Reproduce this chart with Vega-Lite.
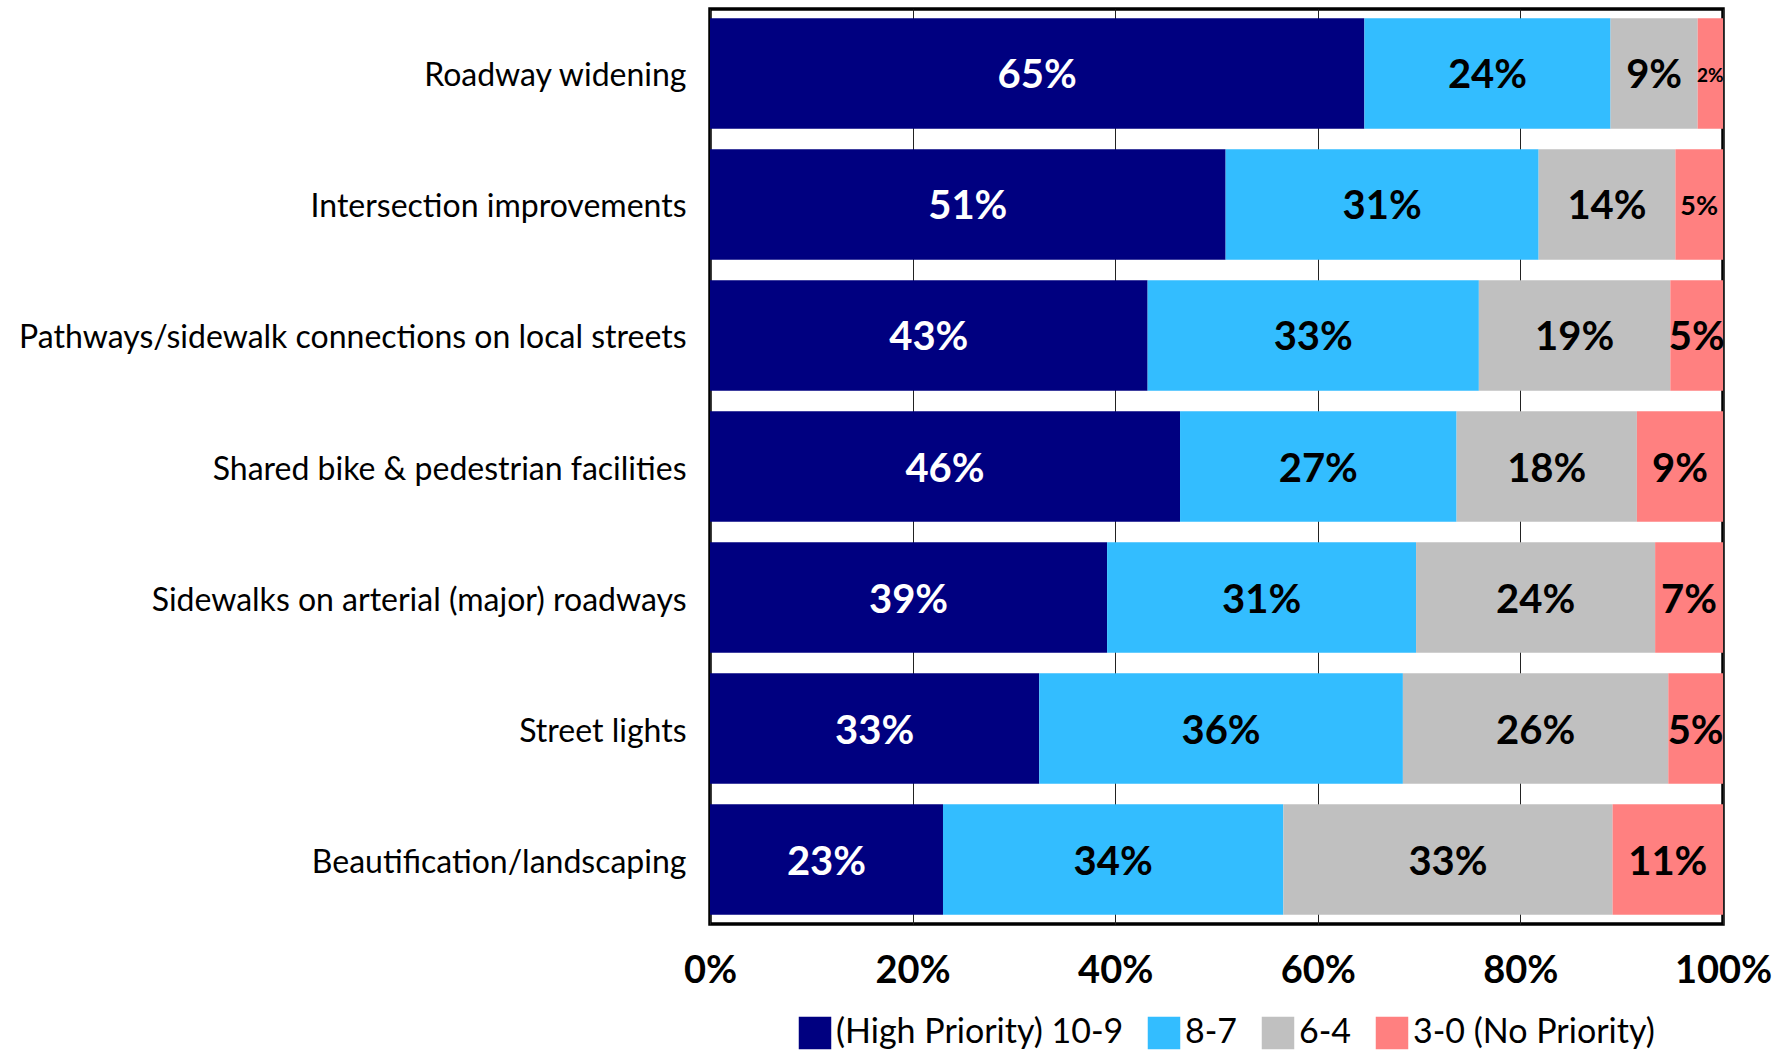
{
  "$schema": "https://vega.github.io/schema/vega-lite/v6.json",
  "autosize": {"type": "none"},
  "width": 1013,
  "height": 915,
  "padding": {"left": 710, "top": 9, "right": 66, "bottom": 129},
  "background": "white",
  "config": {
    "font": "Lato",
    "view": {"stroke": "black", "strokeWidth": 3.5},
    "legend": {"padding": 0}
  },
  "data": {
    "values": [
      {"item": "Roadway widening", "level": "(High Priority) 10-9", "k": 1, "value": 64.6, "label": "65%"},
      {"item": "Roadway widening", "level": "8-7", "k": 2, "value": 24.3, "label": "24%"},
      {"item": "Roadway widening", "level": "6-4", "k": 3, "value": 8.6, "label": "9%"},
      {"item": "Roadway widening", "level": "3-0 (No Priority)", "k": 4, "value": 2.5, "label": "2%"},
      {"item": "Intersection improvements", "level": "(High Priority) 10-9", "k": 1, "value": 50.9, "label": "51%"},
      {"item": "Intersection improvements", "level": "8-7", "k": 2, "value": 30.9, "label": "31%"},
      {"item": "Intersection improvements", "level": "6-4", "k": 3, "value": 13.5, "label": "14%"},
      {"item": "Intersection improvements", "level": "3-0 (No Priority)", "k": 4, "value": 4.7, "label": "5%"},
      {"item": "Pathways/sidewalk connections on local streets", "level": "(High Priority) 10-9", "k": 1, "value": 43.2, "label": "43%"},
      {"item": "Pathways/sidewalk connections on local streets", "level": "8-7", "k": 2, "value": 32.7, "label": "33%"},
      {"item": "Pathways/sidewalk connections on local streets", "level": "6-4", "k": 3, "value": 18.9, "label": "19%"},
      {"item": "Pathways/sidewalk connections on local streets", "level": "3-0 (No Priority)", "k": 4, "value": 5.2, "label": "5%"},
      {"item": "Shared bike & pedestrian facilities", "level": "(High Priority) 10-9", "k": 1, "value": 46.4, "label": "46%"},
      {"item": "Shared bike & pedestrian facilities", "level": "8-7", "k": 2, "value": 27.3, "label": "27%"},
      {"item": "Shared bike & pedestrian facilities", "level": "6-4", "k": 3, "value": 17.8, "label": "18%"},
      {"item": "Shared bike & pedestrian facilities", "level": "3-0 (No Priority)", "k": 4, "value": 8.5, "label": "9%"},
      {"item": "Sidewalks on arterial (major) roadways", "level": "(High Priority) 10-9", "k": 1, "value": 39.2, "label": "39%"},
      {"item": "Sidewalks on arterial (major) roadways", "level": "8-7", "k": 2, "value": 30.5, "label": "31%"},
      {"item": "Sidewalks on arterial (major) roadways", "level": "6-4", "k": 3, "value": 23.6, "label": "24%"},
      {"item": "Sidewalks on arterial (major) roadways", "level": "3-0 (No Priority)", "k": 4, "value": 6.7, "label": "7%"},
      {"item": "Street lights", "level": "(High Priority) 10-9", "k": 1, "value": 32.5, "label": "33%"},
      {"item": "Street lights", "level": "8-7", "k": 2, "value": 35.9, "label": "36%"},
      {"item": "Street lights", "level": "6-4", "k": 3, "value": 26.2, "label": "26%"},
      {"item": "Street lights", "level": "3-0 (No Priority)", "k": 4, "value": 5.4, "label": "5%"},
      {"item": "Beautification/landscaping", "level": "(High Priority) 10-9", "k": 1, "value": 23.0, "label": "23%"},
      {"item": "Beautification/landscaping", "level": "8-7", "k": 2, "value": 33.6, "label": "34%"},
      {"item": "Beautification/landscaping", "level": "6-4", "k": 3, "value": 32.5, "label": "33%"},
      {"item": "Beautification/landscaping", "level": "3-0 (No Priority)", "k": 4, "value": 10.9, "label": "11%"}
    ]
  },
  "transform": [
    {"stack": "value", "groupby": ["item"], "sort": [{"field": "k", "order": "ascending"}], "as": ["x0", "x1"]},
    {"calculate": "(datum.x0 + datum.x1) / 2", "as": "mid"}
  ],
  "encoding": {
    "y": {
      "field": "item",
      "type": "nominal",
      "sort": null,
      "scale": {"paddingInner": 0.157, "paddingOuter": 0.07},
      "axis": {
        "title": null,
        "domain": false,
        "ticks": false,
        "labelFontSize": 32,
        "labelColor": "black",
        "labelPadding": 24,
        "labelOffset": 3,
        "labelLimit": 0
      }
    }
  },
  "layer": [
    {
      "mark": {"type": "bar"},
      "encoding": {
        "x": {
          "field": "x0",
          "type": "quantitative",
          "scale": {"domain": [0, 100], "nice": false},
          "axis": {
            "title": null,
            "values": [0, 20, 40, 60, 80, 100],
            "labelExpr": "datum.value + '%'",
            "domain": false,
            "ticks": false,
            "grid": true,
            "gridColor": "#222222",
            "gridWidth": 1,
            "labelFontSize": 38,
            "labelFontWeight": "bold",
            "labelColor": "black",
            "labelPadding": 28,
            "labelFlush": false
          }
        },
        "x2": {"field": "x1"},
        "color": {
          "field": "level",
          "type": "nominal",
          "scale": {
            "domain": ["(High Priority) 10-9", "8-7", "6-4", "3-0 (No Priority)"],
            "range": ["#000080", "#33BDFF", "#C0C0C0", "#FF8080"]
          },
          "legend": {
            "title": null,
            "orient": "none",
            "direction": "horizontal",
            "columns": 4,
            "legendX": 88,
            "legendY": 1007,
            "symbolType": "square",
            "symbolSize": 1056,
            "symbolStrokeWidth": 0,
            "labelFontSize": 34,
            "labelColor": "black",
            "labelOffset": 4,
            "columnPadding": 23,
            "labelLimit": 0
          }
        }
      }
    },
    {
      "mark": {"type": "text", "fontWeight": "bold", "align": "center", "baseline": "middle", "dy": 3},
      "encoding": {
        "x": {"field": "mid", "type": "quantitative"},
        "text": {"field": "label"},
        "size": {
          "condition": [
            {"test": "datum.value < 3", "value": 19},
            {"test": "datum.value < 5", "value": 27}
          ],
          "value": 40
        },
        "color": {
          "condition": {"test": "datum.k == 1", "value": "white"},
          "value": "black"
        }
      }
    }
  ]
}
